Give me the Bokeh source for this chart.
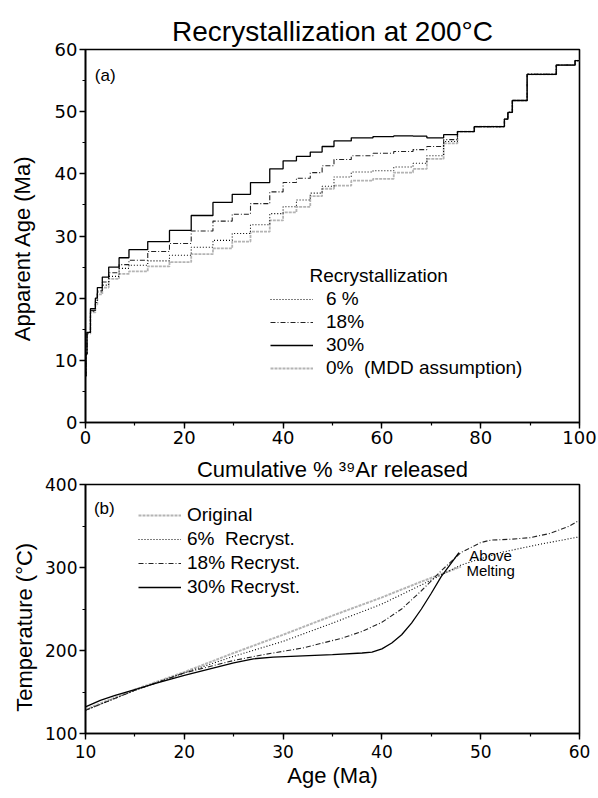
from bokeh.plotting import figure
from bokeh.layouts import column
from bokeh.models import Range1d, SingleIntervalTicker, Legend, LegendItem, Label
from bokeh.embed import file_html
from bokeh.resources import INLINE

FONT = "Liberation Sans"
TICKFONT = "DejaVu Sans"

# ---------------- Panel (a): age spectra ----------------
step_edges = [0, 0.1, 0.3, 1.0, 2.0, 2.4, 3.4, 4.7, 6.8, 8.8,
              12.6, 17.0, 21.4, 25.8, 29.7, 33.4, 37.3, 40.0, 42.7, 45.5,
              47.9, 50.3, 53.8, 58.2, 62.4, 66.3, 69.1, 72.5, 75.3, 78.7,
              84.8, 85.5, 86.4, 89.4, 95.3, 99.1, 100]
age_30 = [7.5, 11.0, 14.5, 18.3, 20.0, 21.7, 23.4, 25.0, 26.5, 27.8,
          29.1, 30.9, 33.3, 35.4, 36.7, 38.6, 40.8, 42.1, 42.8, 43.5,
          44.4, 45.3, 45.8, 46.0, 46.1, 46.05, 45.8, 46.3, 46.8, 47.6,
          48.8, 49.9, 51.8, 56.0, 57.5, 58.2]
age_18 = [7.5, 11.0, 14.5, 18.0, 19.6, 21.2, 22.6, 24.1, 25.4, 26.1,
          27.5, 28.8, 30.8, 32.4, 33.5, 35.2, 37.1, 38.6, 39.3, 40.2,
          41.3, 42.3, 42.9, 43.3, 43.6, 43.9, 44.4, 45.5, 46.8, 47.6,
          48.8, 49.9, 51.8, 56.0, 57.5, 58.2]
age_6 = [7.5, 11.0, 14.4, 17.9, 19.3, 21.0, 22.1, 23.5, 24.8, 25.3,
         26.0, 26.9, 28.2, 29.3, 30.4, 31.8, 33.6, 34.7, 35.8, 36.9,
         38.0, 39.5, 40.3, 40.5, 41.1, 41.7, 42.9, 45.2, 46.8, 47.6,
         48.8, 49.9, 51.8, 56.0, 57.5, 58.2]
age_0 = [7.3, 10.8, 14.3, 17.7, 19.0, 20.6, 21.7, 23.1, 23.9, 24.3,
         25.1, 25.8, 27.1, 28.0, 29.1, 30.7, 32.5, 33.8, 34.7, 36.4,
         37.6, 38.1, 38.9, 39.2, 40.2, 40.8, 42.4, 44.9, 46.8, 47.6,
         48.8, 49.9, 51.8, 56.0, 57.5, 58.2]
labels_a = ["6 %", "18%", "30%", "0%  (MDD assumption)"]

# ---------------- Panel (b): thermal histories ----------------
t_orig = [10, 15, 20, 25, 30, 35, 40, 44, 48]
T_orig = [129, 153, 174, 197, 219, 242, 264, 283, 301]
t_6 = [10, 15, 20, 25, 30, 35, 40, 44, 48, 52, 56, 60]
T_6 = [128, 152, 173, 193, 211, 233, 256, 279, 303, 318, 328, 337]
t_18 = [10, 15, 20, 25, 28, 32, 36, 38, 40, 42, 44, 46, 48, 50, 51, 53, 55, 57, 59, 60]
T_18 = [128, 152, 173, 188, 195, 203, 215, 223, 234, 250, 272, 296, 318, 330, 333, 334, 336, 341, 350, 357]
t_30 = [10, 11.5, 13, 15, 17, 20, 23, 25, 27, 29, 32, 35, 38, 39, 40, 41, 42, 43, 44, 45, 46, 47, 47.8]
T_30 = [132, 140, 146, 153, 160, 170, 179, 185, 190, 192, 193.5, 195, 197, 198, 202, 209, 219, 233, 250, 269, 289, 305, 318]
labels_b = ["Original", "6%  Recryst.", "18% Recryst.", "30% Recryst."]

GRAY = "#b4b4b4"
NB = "\u00a0"


def style_axes(p, xint, yint, ylab_standoff, tick_size, xstand):
    for ax in (p.xaxis[0], p.yaxis[0]):
        ax.axis_line_width = 1.6
        ax.major_tick_line_width = 1.4
        ax.minor_tick_line_width = 1.2
        ax.major_tick_in = 0
        ax.major_tick_out = 6
        ax.minor_tick_in = 0
        ax.minor_tick_out = 3
        ax.major_label_text_font = TICKFONT
        ax.major_label_text_font_size = tick_size
        ax.major_label_text_color = "black"
        ax.axis_label_text_font = FONT
        ax.axis_label_text_font_size = "22px"
        ax.axis_label_text_font_style = "normal"
        ax.axis_label_text_color = "black"
    p.xaxis[0].ticker = SingleIntervalTicker(interval=xint, num_minor_ticks=2)
    p.yaxis[0].ticker = SingleIntervalTicker(interval=yint, num_minor_ticks=2)
    p.xaxis[0].major_label_standoff = xstand
    p.xaxis[0].axis_label_standoff = 2
    p.yaxis[0].major_label_standoff = 2
    p.yaxis[0].axis_label_standoff = ylab_standoff
    p.xgrid.visible = False
    p.ygrid.visible = False
    p.outline_line_color = "black"
    p.outline_line_width = 1.6
    p.background_fill_color = "white"
    p.border_fill_color = "white"


# ---------- figure (a) ----------
p1 = figure(width=598, height=451, x_range=Range1d(0, 100), y_range=Range1d(0, 60),
            output_backend="svg", toolbar_location=None,
            min_border_left=85, min_border_right=19, min_border_top=49, min_border_bottom=29,
            y_axis_label="Apparent Age (Ma)" + NB * 4)
p1.title.text = "Recrystallization at 200°C"
p1.title.align = "center"
p1.title.text_font = FONT
p1.title.text_font_size = "28px"
p1.title.text_font_style = "normal"
p1.title.text_color = "black"
p1.title.standoff = 6
style_axes(p1, 20, 10, 17, "18px", 2)

xs = step_edges
r0 = p1.step(xs, age_0 + [age_0[-1]], mode="after", line_color=GRAY, line_width=1.8, line_dash="3 1")
r6 = p1.step(xs, age_6 + [age_6[-1]], mode="after", line_color="black", line_width=1.1, line_dash="1 2")
r18 = p1.step(xs, age_18 + [age_18[-1]], mode="after", line_color="#222222", line_width=1.1, line_dash="5 2 1 2")
r30 = p1.step(xs, age_30 + [age_30[-1]], mode="after", line_color="black", line_width=1.3)

leg1 = Legend(items=[LegendItem(label=labels_a[0], renderers=[r6]),
                     LegendItem(label=labels_a[1], renderers=[r18]),
                     LegendItem(label=labels_a[2], renderers=[r30]),
                     LegendItem(label=labels_a[3], renderers=[r0])],
              location=(185, 43), padding=0, margin=0, spacing=1,
              glyph_width=43, glyph_height=20, label_height=20, label_standoff=13,
              label_text_font=FONT, label_text_font_size="19px", label_text_color="black",
              background_fill_alpha=0, border_line_alpha=0)
p1.add_layout(leg1, "center")
p1.add_layout(Label(x=224, y=147, x_units="screen", y_units="screen", text="Recrystallization",
                    text_font=FONT, text_font_size="19px", text_baseline="middle", text_color="black"))
p1.add_layout(Label(x=4.0, y=55.8, text="(a)", text_font=FONT, text_font_size="17px",
                    text_align="center", text_baseline="middle", text_color="black"))

# ---------- figure (b) ----------
p2 = figure(width=598, height=347, x_range=Range1d(10, 60), y_range=Range1d(100, 400),
            output_backend="svg", toolbar_location=None,
            min_border_left=84, min_border_right=19, min_border_top=33, min_border_bottom=65,
            x_axis_label="Age (Ma)", y_axis_label="Temperature (°C)" + NB * 6)
# x-axis title of panel (a), placed in the gap above panel (b)
p2.title.text = "Cumulative % ³⁹Ar released"
p2.title.align = "center"
p2.title.text_font = FONT
p2.title.text_font_size = "22px"
p2.title.text_font_style = "normal"
p2.title.text_color = "black"
p2.title.standoff = 6
style_axes(p2, 10, 100, 5, "17px", 5)

b0 = p2.line(t_orig, T_orig, line_color=GRAY, line_width=2.0, line_dash="3 1")
b6 = p2.line(t_6, T_6, line_color="black", line_width=1.1, line_dash="1 2")
b18 = p2.line(t_18, T_18, line_color="#222222", line_width=1.1, line_dash="5 2 1 2")
b30 = p2.line(t_30, T_30, line_color="black", line_width=1.3)

leg2 = Legend(items=[LegendItem(label=labels_b[0], renderers=[b0]),
                     LegendItem(label=labels_b[1], renderers=[b6]),
                     LegendItem(label=labels_b[2], renderers=[b18]),
                     LegendItem(label=labels_b[3], renderers=[b30])],
              location=(53, 135), padding=0, margin=0, spacing=2,
              glyph_width=43, glyph_height=20, label_height=20, label_standoff=6,
              label_text_font=FONT, label_text_font_size="19px", label_text_color="black",
              background_fill_alpha=0, border_line_alpha=0)
p2.add_layout(leg2, "center")
p2.add_layout(Label(x=11.9, y=371, text="(b)", text_font=FONT, text_font_size="17px",
                    text_align="center", text_baseline="middle", text_color="black"))
p2.add_layout(Label(x=51.0, y=315, text="Above", text_font=FONT, text_font_size="15px",
                    text_align="center", text_baseline="middle", text_color="black"))
p2.add_layout(Label(x=51.0, y=296, text="Melting", text_font=FONT, text_font_size="15px",
                    text_align="center", text_baseline="middle", text_color="black"))

layout = column(p1, p2, spacing=0)
open("out.html", "w").write(file_html(layout, INLINE))
